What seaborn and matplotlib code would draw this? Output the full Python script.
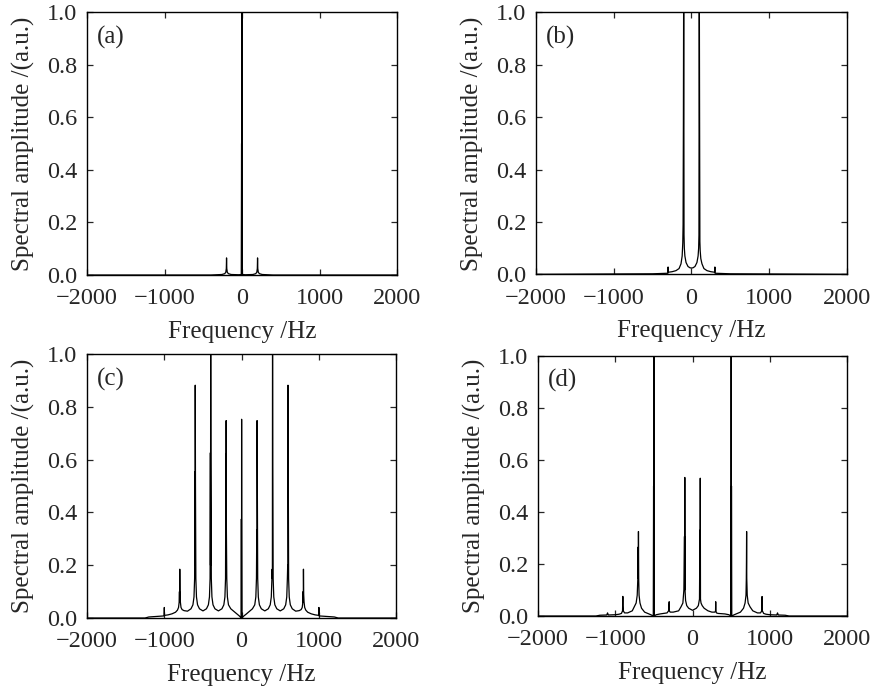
import matplotlib
matplotlib.use("Agg")
import matplotlib.pyplot as plt
import seaborn as sns

# spectra (Hz, a.u.); tops above 1.0 are clipped by the axes
freq_a = [-2000, -400, -260, -225, -210, -203, -200, -197, -190, -175, -140, -40,
          -10, -6, -4, 0, 4, 10, 40, 140, 175, 190, 197, 200, 203, 210, 225, 260, 400, 2000]
amp_a = [0, 0, 0.002, 0.005, 0.01, 0.025, 0.065, 0.025, 0.01, 0.005, 0.002, 0.001,
         0.002, 0.5, 0.002, 1.2, 0.002, 0.002, 0.001, 0.002, 0.005, 0.01, 0.025, 0.065, 0.025, 0.01, 0.005, 0.002, 0, 0]

freq_b = [-2000, -500, -320, -303, -301, -298, -250, -200, -160, -135, -120, -112, -108, -104, -100,
          -96, -92, -85, -70, -45, -20, 0, 20, 45, 70, 85, 92, 96, 100, 104, 108,
          112, 120, 135, 160, 200, 250, 298, 301, 303, 320, 500, 2000]
amp_b = [0, 0.002, 0.004, 0.004, 0.028, 0.008, 0.01, 0.014, 0.022, 0.04, 0.07, 0.12, 0.19, 0.58, 1.2,
         0.15, 0.1, 0.07, 0.045, 0.03, 0.025, 0.024, 0.025, 0.03, 0.045, 0.07, 0.1, 0.15, 1.2, 0.625, 0.125,
         0.09, 0.06, 0.04, 0.022, 0.014, 0.01, 0.008, 0.028, 0.004, 0.004, 0.002, 0]

freq_c = [-2000, -1250, -1200, -1050, -1002, -1000, -998, -950, -900,
          -855, -830, -816, -808, -804, -802, -800, -797, -792, -784, -770, -745, -700,
          -655, -630, -616, -608, -604, -602, -600, -597, -592, -584, -570, -545, -500,
          -455, -430, -416, -408, -404, -402, -400, -397, -392, -384, -370, -345, -300,
          -255, -230, -216, -208, -204, -202, -200, -197, -192, -184, -170, -140, -100,
          -60, -30, -5, -3, -1, 0, 2, 30, 60,
          100, 140, 170, 184, 192, 196, 198, 200, 203, 208, 216, 230, 255, 300,
          345, 370, 384, 392, 396, 398, 400, 403, 408, 416, 430, 455, 500,
          545, 570, 584, 592, 596, 598, 600, 603, 608, 616, 630, 655, 700,
          745, 770, 784, 792, 796, 798, 800, 803, 808, 816, 830, 855, 900,
          950, 998, 1000, 1002, 1050, 1200, 1250, 2000]
amp_c = [0, 0, 0.004, 0.007, 0.008, 0.04, 0.01, 0.012, 0.016,
         0.022, 0.03, 0.04, 0.06, 0.1, 0.06, 0.185, 0.09, 0.06, 0.04, 0.032, 0.028, 0.026,
         0.035, 0.05, 0.08, 0.15, 0.554, 0.2, 0.882, 0.513, 0.15, 0.08, 0.05, 0.035, 0.027,
         0.035, 0.05, 0.08, 0.15, 0.626, 0.2, 1.2, 0.589, 0.15, 0.08, 0.05, 0.035, 0.027,
         0.035, 0.05, 0.08, 0.15, 0.62, 0.2, 0.748, 0.333, 0.15, 0.08, 0.05, 0.035, 0.025,
         0.015, 0.008, 0.0, 0.375, 0.0, 0.753, 0.0, 0.008, 0.015,
         0.025, 0.035, 0.05, 0.08, 0.15, 0.333, 0.15, 0.748, 0.484, 0.15, 0.08, 0.05, 0.035, 0.027,
         0.035, 0.05, 0.08, 0.15, 0.185, 0.15, 1.2, 0.58, 0.15, 0.08, 0.05, 0.035, 0.027,
         0.035, 0.05, 0.08, 0.15, 0.2, 0.15, 0.882, 0.55, 0.15, 0.08, 0.05, 0.035, 0.026,
         0.028, 0.032, 0.04, 0.06, 0.1, 0.06, 0.185, 0.09, 0.06, 0.04, 0.03, 0.022, 0.016,
         0.012, 0.01, 0.04, 0.008, 0.007, 0.004, 0, 0]

freq_d = [-2000, -1250, -1200, -1110, -1100, -1090, -1000, -950, -920, -906, -902, -900, -896, -880, -840,
          -780, -755, -730, -716, -708, -704, -702, -700, -697, -692, -680, -660, -620, -580, -540,
          -508, -504, -502, -500, -498, -470, -420, -330, -310, -302, -300, -290, -250,
          -180, -150, -125, -112, -104, -102, -100, -97, -90, -75, -50, 0,
          50, 75, 90, 96, 98, 100, 103, 110, 125, 150, 200, 250, 290, 298, 300, 302, 310, 330,
          420, 470, 498, 500, 502, 504, 508, 540, 580, 620, 660, 680, 692, 696, 698, 700, 702,
          708, 720, 745, 780, 840, 880, 896, 898, 900, 904, 920, 950, 1000, 1090, 1100, 1110,
          1200, 1250, 2000]
amp_d = [0, 0, 0.003, 0.004, 0.012, 0.004, 0.005, 0.007, 0.01, 0.02, 0.0755, 0.04, 0.02, 0.012, 0.012,
         0.02, 0.035, 0.05, 0.08, 0.145, 0.265, 0.145, 0.325, 0.145, 0.08, 0.05, 0.03, 0.015, 0.01, 0.005,
         0.0, 0.5, 0.0, 1.2, 0.0, 0.005, 0.008, 0.012, 0.02, 0.055, 0.02, 0.015, 0.015,
         0.02, 0.035, 0.05, 0.1, 0.306, 0.1, 0.533, 0.1, 0.06, 0.04, 0.03, 0.022,
         0.03, 0.04, 0.065, 0.33, 0.1, 0.53, 0.065, 0.05, 0.04, 0.03, 0.02, 0.015, 0.015, 0.02, 0.055, 0.02, 0.012, 0.01,
         0.008, 0.005, 0.0, 1.2, 0.0, 0.5, 0.0, 0.005, 0.01, 0.015, 0.03, 0.05, 0.08, 0.14, 0.209, 0.325, 0.145,
         0.08, 0.05, 0.035, 0.02, 0.012, 0.012, 0.02, 0.04, 0.075, 0.02, 0.01, 0.007, 0.005, 0.004, 0.012, 0.004,
         0.003, 0, 0]

panel_tags = ["(a)", "(b)", "(c)", "(d)"]
x_ticks = [-2000, -1000, 0, 1000, 2000]
y_ticks = [0.0, 0.2, 0.4, 0.6, 0.8, 1.0]

sns.set_style("ticks")
plt.rcParams['font.family'] = ['Liberation Serif', 'DejaVu Serif']

fig = plt.figure(figsize=(8.71, 6.91), dpi=100)
boxes = [
    [0.0999, 0.602, 0.356, 0.3806],
    [0.6154, 0.603, 0.357, 0.3790],
    [0.0999, 0.1056, 0.355, 0.3820],
    [0.6177, 0.1085, 0.3548, 0.3763],
]
series = [(freq_a, amp_a), (freq_b, amp_b), (freq_c, amp_c), (freq_d, amp_d)]

for box, (fx, fy), tag in zip(boxes, series, panel_tags):
    ax = fig.add_axes(box)
    sns.lineplot(x=fx, y=fy, ax=ax, sort=False, estimator=None, color='black', lw=0.9)
    ax.set_xlim(-2000, 2000)
    ax.set_ylim(0, 1.0)
    ax.set_xticks(x_ticks)
    ax.set_yticks(y_ticks)
    ax.set_yticklabels([f"{v:.1f}" for v in y_ticks])
    ax.tick_params(direction='in', top=True, right=True, length=4, width=0.9, labelsize=17.5)
    ax.tick_params(axis='x', pad=9.5)
    ax.tick_params(axis='y', pad=7)
    for s in ax.spines.values():
        s.set_linewidth(1.0)
        s.set_color('black')
    ax.set_xlabel('Frequency /Hz', fontsize=18, labelpad=8.5)
    ax.set_ylabel('Spectral amplitude /(a.u.)', fontsize=18, labelpad=8.5)
    ax.text(0.032, 0.905, tag, transform=ax.transAxes, fontsize=18, va='center', ha='left')

fig.savefig('out.png', dpi=100)
